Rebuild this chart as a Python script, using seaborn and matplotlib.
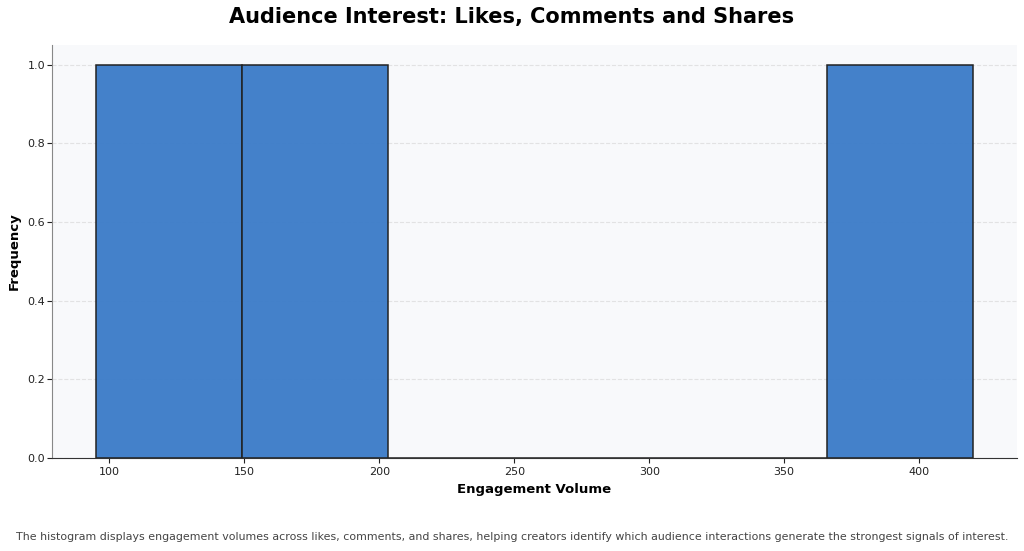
import pandas as pd
import seaborn as sns
import matplotlib.pyplot as plt

# engagement volumes
metrics = ["Likes", "Comments", "Shares"]
volumes = [420, 95, 180]

df = pd.DataFrame({"metric": metrics, "volume": volumes})

sns.set_style("white")
plt.rcParams["font.family"] = ["DejaVu Sans"]
plt.rcParams["text.color"] = "black"
plt.rcParams["axes.labelcolor"] = "black"

fig = plt.figure(figsize=(10.24, 5.51), dpi=100)
ax = fig.add_axes([52 / 1024, 1 - 458 / 551, (1017 - 52) / 1024, (458 - 45) / 551])
ax.set_facecolor("#f8f9fb")

sns.histplot(data=df, x="volume", bins=6, color="#3a7bc8", alpha=0.95,
             edgecolor="#222222", linewidth=1.1, ax=ax)

ax.grid(axis="y", linestyle="--", color="#dddddd", linewidth=0.8, alpha=0.8)
ax.set_axisbelow(True)
ax.spines["top"].set_visible(False)
ax.spines["right"].set_visible(False)
ax.spines["left"].set_color("#888888")
ax.spines["bottom"].set_color("#333333")
ax.tick_params(axis="both", labelsize=8, colors="#222222", length=3.5, width=0.8)
ax.tick_params(axis="y", which="both", left=True, pad=1.5)
ax.tick_params(axis="x", which="both", bottom=True, pad=3)

ax.set_xlabel("Engagement Volume", fontsize=9.5, fontweight="bold", labelpad=4)
ax.set_ylabel("Frequency", fontsize=9.5, fontweight="bold", labelpad=4.5)

fig.text(0.5, 1 - 17 / 551, "Audience Interest: Likes, Comments and Shares",
         ha="center", va="center", fontsize=15, fontweight="bold")
fig.text(0.5, 1 - 537 / 551,
         "The histogram displays engagement volumes across likes, comments, and shares, "
         "helping creators identify which audience interactions generate the strongest signals of interest.",
         ha="center", va="center", fontsize=7.9, color="#444444")

fig.savefig("out.png", dpi=100)
